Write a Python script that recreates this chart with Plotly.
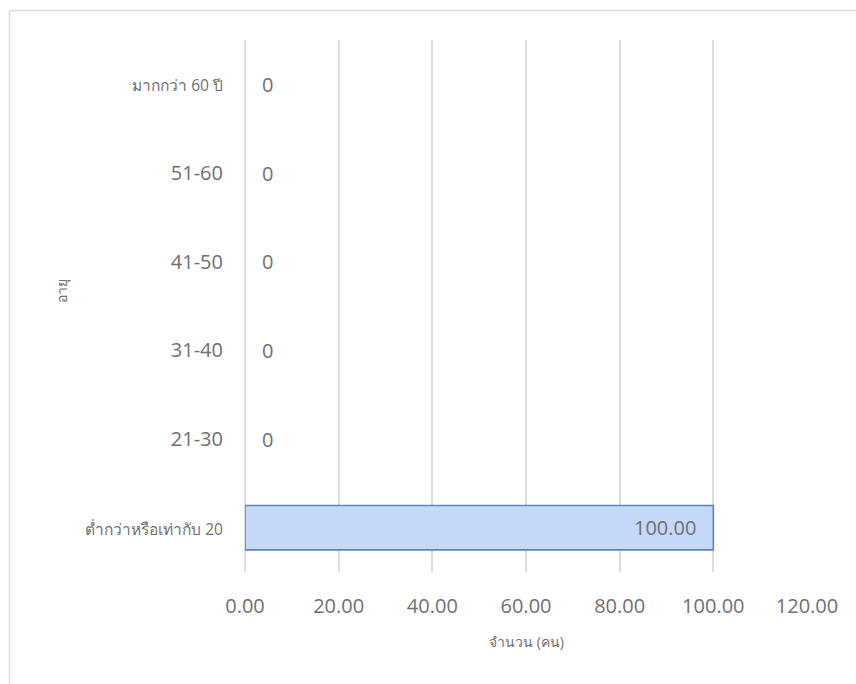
import plotly.graph_objects as go

# Age groups, bottom to top, and head count in each
age_groups = ["ต่ำกว่าหรือเท่ากับ 20", "21-30", "31-40", "41-50", "51-60", "มากกว่า 60 ปี"]
counts = [100, 0, 0, 0, 0, 0]
x_ticks = [0, 20, 40, 60, 80, 100, 120]

GREY = "#707070"
GRID = "#dcdcdc"

# Thai labels render smaller than the numeric ones
def tick_label(s):
    if any("\u0e00" <= ch <= "\u0e7f" for ch in s):
        return f"<span style='font-size:15.5px'>{s}</span>"
    return s

fig = go.Figure()
fig.add_trace(go.Bar(
    x=counts,
    y=age_groups,
    orientation="h",
    width=0.5,
    marker=dict(
        color="#c4d8fa",
        line=dict(color="#5a84c2", width=[1.6 if v else 0 for v in counts]),
    ),
    hoverinfo="x+y",
))

# Value labels: inside the bar end for non-zero values, just past the axis for zeros
for v, cat in zip(counts, age_groups):
    fig.add_annotation(
        x=v, y=cat,
        text=f"{v:.2f}" if v else "0",
        showarrow=False,
        xanchor="right" if v else "left",
        xshift=-15 if v else 15,
        font=dict(family="Open Sans", size=20, color=GREY),
    )

# Layout geometry in pixels
W, H = 856, 684
ml, mr, mt, mb = 245, 49, 40, 112
pw, ph = W - ml - mr, H - mt - mb
def px_x(p):
    return (p - ml) / pw
def px_y(p):
    return (H - mb - p) / ph

# Axis titles
fig.add_annotation(xref="paper", yref="paper", x=0.5, y=px_y(641),
                   xanchor="center", yanchor="middle",
                   text="จำนวน (คน)", showarrow=False,
                   font=dict(family="Open Sans", size=14, color=GREY))
fig.add_annotation(xref="paper", yref="paper", x=px_x(61), y=px_y(291),
                   xanchor="center", yanchor="middle",
                   text="อายุ", showarrow=False, textangle=-90,
                   font=dict(family="Open Sans", size=14, color=GREY))

# Chart frame (top and left edges)
fig.add_shape(type="line", xref="paper", yref="paper",
              x0=px_x(9.5), x1=px_x(900), y0=px_y(10.5), y1=px_y(10.5),
              line=dict(color=GRID, width=1.5))
fig.add_shape(type="line", xref="paper", yref="paper",
              x0=px_x(9.5), x1=px_x(9.5), y0=px_y(10.5), y1=px_y(720),
              line=dict(color=GRID, width=1.5))

fig.update_layout(
    width=W, height=H,
    margin=dict(l=ml, r=mr, t=mt, b=mb),
    paper_bgcolor="white",
    plot_bgcolor="white",
    showlegend=False,
    font=dict(family="Open Sans", color=GREY),
    xaxis=dict(
        range=[0, 120],
        tickvals=x_ticks,
        ticktext=[f"{t:.2f}" for t in x_ticks],
        tickfont=dict(size=20, color=GREY),
        showgrid=True, gridcolor=GRID, gridwidth=1.5,
        zeroline=True, zerolinecolor=GRID, zerolinewidth=1.5,
        showline=False,
        ticks="",
        ticklabelstandoff=20,
        automargin=False,
    ),
    yaxis=dict(
        categoryorder="array",
        categoryarray=age_groups,
        tickvals=age_groups,
        ticktext=[tick_label(s) for s in age_groups],
        tickfont=dict(size=20, color=GREY),
        showgrid=False,
        showline=False,
        ticks="",
        ticklabelstandoff=21,
        automargin=False,
    ),
)

fig.write_html("out.html")
